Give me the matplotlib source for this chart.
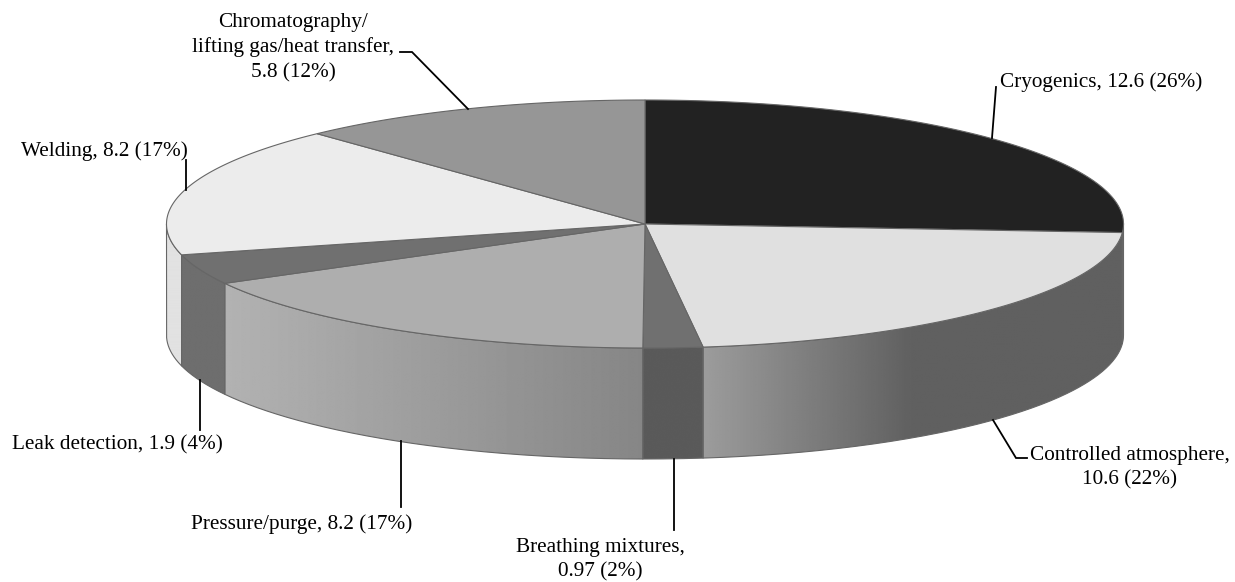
import numpy as np
import matplotlib
matplotlib.use("Agg")
import matplotlib.pyplot as plt
from matplotlib.patches import Polygon

plt.rcParams['font.family'] = ['Liberation Serif', 'DejaVu Serif']

categories = ["Cryogenics", "Controlled atmosphere", "Breathing mixtures", "Pressure/purge",
              "Leak detection", "Welding", "Chromatography/lifting gas/heat transfer"]
values = [12.6, 10.6, 0.97, 8.2, 1.9, 8.2, 5.8]
top_colors = ["#222222", "#e0e0e0", "#707070", "#aeaeae", "#707070", "#ececec", "#969696"]
# side shading: (gray at left end, gray at right end, fraction of width at which right gray is reached)
side_shades = [(0x60, 0x60, 1.0), (0x9c, 0x60, 0.5), (0x5a, 0x5a, 1.0), (0xb2, 0x86, 1.0),
               (0x6e, 0x6e, 1.0), (0xe2, 0xe2, 1.0), (0xe2, 0xe2, 1.0)]

CX, CY, RX, RY, DEPTH = 645.0, 224.0, 478.5, 124.0, 111.0
EDGE = "#666666"

fig = plt.figure(figsize=(12.35, 5.82), dpi=100)
ax = fig.add_axes([0, 0, 1, 1])


def rim(t_deg, dy=0.0):
    t = np.radians(t_deg)
    return np.column_stack([CX + RX * np.sin(t), CY + dy - RY * np.cos(t)])


fracs = np.cumsum([0] + values) / np.sum(values) * 360.0

# sides (only the front half, 90..270 degrees clockwise from the top)
for i in range(len(values)):
    a, b = max(fracs[i], 90.0), min(fracs[i + 1], 270.0)
    if b <= a:
        continue
    ts = np.linspace(a, b, 200)
    upper = rim(ts)
    lower = rim(ts, DEPTH)[::-1]
    pts = np.vstack([upper, lower])
    poly = Polygon(pts, closed=True, facecolor="none", edgecolor="none", transform=ax.transData)
    ax.add_patch(poly)
    x0, x1 = pts[:, 0].min(), pts[:, 0].max()
    y0, y1 = pts[:, 1].min(), pts[:, 1].max()
    left, right, reach = side_shades[i]
    u = np.linspace(0, 1, 256)
    grad = np.interp(u, [0, reach, 1], [left, right, right]) / 255.0
    im = ax.imshow(grad[None, :], extent=(x0, x1, y1, y0), cmap="gray", vmin=0, vmax=1,
                   aspect="auto", interpolation="bilinear", zorder=1)
    im.set_clip_path(poly)
    ax.plot(pts[:, 0].tolist() + [pts[0, 0]], pts[:, 1].tolist() + [pts[0, 1]],
            color=EDGE, lw=0.8, zorder=2)

# top face
for i in range(len(values)):
    ts = np.linspace(fracs[i], fracs[i + 1], 200)
    pts = np.vstack([[CX, CY], rim(ts)])
    ax.add_patch(Polygon(pts, closed=True, facecolor=top_colors[i], edgecolor=EDGE, lw=0.8, zorder=3))

# leader lines
leaders = [
    ([996, 992], [87, 138]),
    ([993, 1016, 1027], [420, 458, 458]),
    ([674, 674], [459, 530]),
    ([401, 401], [441, 507]),
    ([200, 200], [380, 430]),
    ([186, 186], [160, 190]),
    ([468, 412, 400], [109, 52, 52]),
]
for xs, ys in leaders:
    ax.plot(xs, ys, color="black", lw=1.3, zorder=4, solid_joinstyle="miter")

# labels
FS = 15.3
labels = [
    (1000, 82.5, "Cryogenics, 12.6 (26%)", "left"),
    (1130, 467.5, "Controlled atmosphere,\n10.6 (22%)", "center"),
    (600, 560, "Breathing mixtures,\n0.97 (2%)", "center"),
    (191, 524.5, "Pressure/purge, 8.2 (17%)", "left"),
    (12, 445, "Leak detection, 1.9 (4%)", "left"),
    (21, 151, "Welding, 8.2 (17%)", "left"),
    (293, 47.5, "Chromatography/\nlifting gas/heat transfer,\n5.8 (12%)", "center"),
]
for x, y, s, ha in labels:
    ax.text(x, y, s, ha=ha, va="center", fontsize=FS, color="black", linespacing=1.38,
            multialignment="center", zorder=5)

ax.set_xlim(0, 1235)
ax.set_ylim(582, 0)
ax.axis("off")
fig.savefig("out.png", dpi=100, facecolor="white")
